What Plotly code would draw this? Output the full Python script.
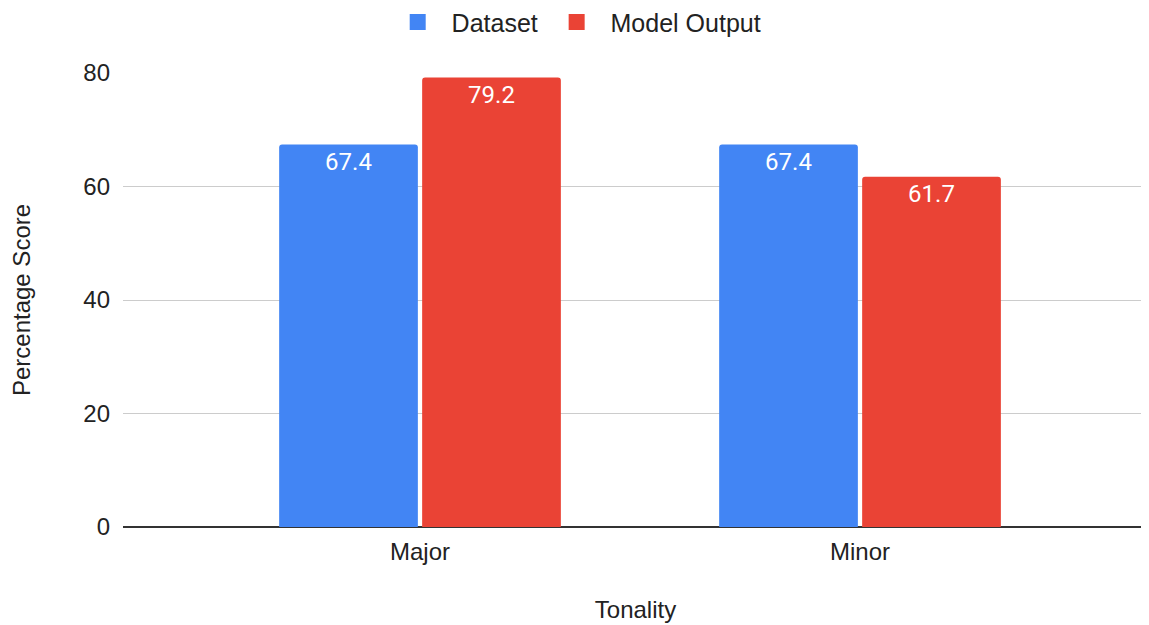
import plotly.graph_objects as go

categories = ["Major", "Minor"]
dataset_values = [67.4, 67.4]
model_values = [79.2, 61.7]
series_names = ["Dataset", "Model Output"]
colors = ["#4285F4", "#EA4335"]
y_ticks = [0, 20, 40, 60, 80]

fig = go.Figure()
for name, vals, col in zip(series_names, [dataset_values, model_values], colors):
    fig.add_trace(go.Bar(
        x=categories, y=vals, name=name, marker_color=col,
        marker_line_width=0,
        text=[f"{v:.1f}" for v in vals], textposition="inside",
        insidetextanchor="end", textangle=0,
        textfont=dict(family="Roboto", size=24, color="white"),
        showlegend=False, hoverinfo="skip",
    ))
for name, col in zip(series_names, colors):
    fig.add_trace(go.Scatter(
        x=[None], y=[None], mode="markers", name="\u00a0\u00a0" + name + "\u00a0\u00a0",
        marker=dict(symbol="square", size=20, color=col),
    ))

fig.update_layout(
    width=1141, height=617,
    margin=dict(l=115, r=1, t=65, b=98, autoexpand=False),
    paper_bgcolor="white", plot_bgcolor="white",
    barmode="group", bargap=0.35, bargroupgap=0.03, barcornerradius=3,
    font=dict(family="Liberation Sans, Arial", size=24, color="#222222"),
    legend=dict(orientation="h", x=0.268, xanchor="left", y=1.112, yanchor="middle",
                font=dict(size=25, color="#222222"), itemsizing="trace",
                traceorder="normal"),
    xaxis=dict(range=[-0.675, 1.6545], showgrid=False, ticks="",
               ticklabelstandoff=8,
               title=dict(text="Tonality", standoff=37, font=dict(size=24)),
               tickfont=dict(size=24)),
    yaxis=dict(range=[0, 80], tickvals=y_ticks, showgrid=True, gridcolor="#cccccc",
               gridwidth=1, zeroline=True, zerolinecolor="#333333", zerolinewidth=1.5,
               ticks="", ticklabelstandoff=12,
               title=dict(text="Percentage Score", standoff=48, font=dict(size=24)),
               tickfont=dict(size=24)),
)
fig.write_html("out.html")
